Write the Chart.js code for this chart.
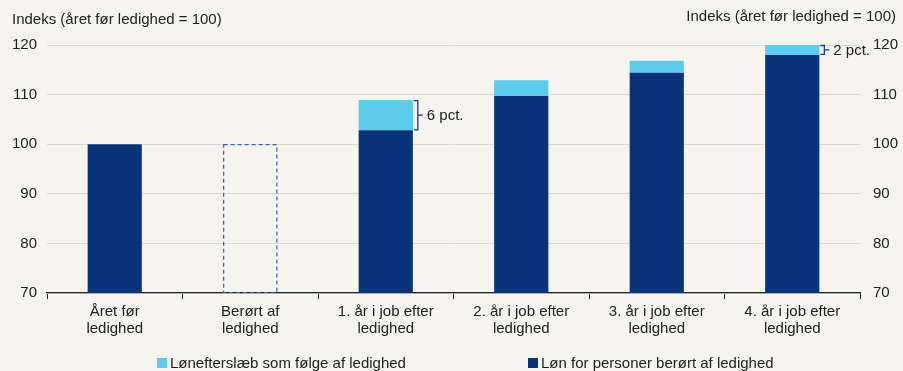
<!DOCTYPE html>
<html>
<head>
<meta charset="utf-8">
<script src="https://cdn.jsdelivr.net/npm/chart.js@4/dist/chart.umd.min.js"></script>
<style>
  html, body { margin: 0; padding: 0; background: #f5f4ee; }
  #wrap { width: 903px; height: 371px; position: relative; }
</style>
</head>
<body>
<div id="wrap"><canvas id="chart" width="903" height="371"></canvas></div>
<script>
// data
const categories = [
    ['Året før', 'ledighed'],
    ['Berørt af', 'ledighed'],
    ['1. år i job efter', 'ledighed'],
    ['2. år i job efter', 'ledighed'],
    ['3. år i job efter', 'ledighed'],
    ['4. år i job efter', 'ledighed']
];
const wageValues = [100, 100, 102.8, 109.7, 114.4, 118];
const gapValues = [0, 0, 6.1, 3.2, 2.4, 2.0];
const gapLabels = [null, null, '6 pct.', null, null, '2 pct.'];
const dashedIndex = 1;
const axisTitle = 'Indeks (året før ledighed = 100)';
const seriesNames = ['Lønefterslæb som følge af ledighed', 'Løn for personer berørt af ledighed'];

const DARK = '#0a3379';
const LIGHT = '#5dcbeb';
const FONT = '"Liberation Sans", Arial, sans-serif';
const TEXT = '#222222';
const FS = 15;

var extras = {
    id: 'extras',
    afterDatasetsDraw: function (chart) {
        var ctx = chart.ctx;
        var yScale = chart.scales.y;
        var meta = chart.getDatasetMeta(0);

        // dashed outline bar
        var el = meta.data[dashedIndex];
        ctx.save();
        ctx.strokeStyle = '#3b63a6';
        ctx.lineWidth = 1.2;
        ctx.setLineDash([4, 3]);
        var top = el.y, bottom = chart.chartArea.bottom;
        ctx.strokeRect(el.x - el.width / 2 + 0.5, top + 0.5, el.width - 1, bottom - top - 1);
        ctx.restore();

        // brackets
        gapLabels.forEach(function (lbl, i) {
            if (!lbl) return;
            var b = meta.data[i];
            var x = b.x + b.width / 2 + 4;
            var yTop = yScale.getPixelForValue(wageValues[i] + gapValues[i]);
            var yBot = yScale.getPixelForValue(wageValues[i]);
            var yMid = (yTop + yBot) / 2;
            ctx.save();
            ctx.strokeStyle = '#1d3d7c';
            ctx.lineWidth = 1.3;
            ctx.beginPath();
            ctx.moveTo(x - 3, yTop + 0.5);
            ctx.lineTo(x + 1, yTop + 0.5);
            ctx.lineTo(x + 1, yBot - 0.5);
            ctx.lineTo(x - 3, yBot - 0.5);
            ctx.moveTo(x + 1, yMid);
            ctx.lineTo(x + 6, yMid);
            ctx.stroke();
            ctx.fillStyle = TEXT;
            ctx.font = FS + 'px ' + FONT;
            ctx.textBaseline = 'middle';
            ctx.textAlign = 'left';
            ctx.fillText(lbl, x + 10, yMid + 1);
            ctx.restore();
        });
    },
    afterDraw: function (chart) {
        var ctx = chart.ctx;
        ctx.save();
        ctx.fillStyle = TEXT;
        ctx.font = FS + 'px ' + FONT;
        ctx.textBaseline = 'middle';
        ctx.textAlign = 'left';
        ctx.fillText(axisTitle, 12, 20);
        ctx.textAlign = 'right';
        ctx.fillText(axisTitle, 896, 17);

        // legend
        var items = [
            { x: 157, color: LIGHT, text: seriesNames[0] },
            { x: 528, color: DARK, text: seriesNames[1] }
        ];
        ctx.textAlign = 'left';
        items.forEach(function (it) {
            ctx.fillStyle = it.color;
            ctx.fillRect(it.x, 358, 10, 10);
            ctx.fillStyle = TEXT;
            ctx.fillText(it.text, it.x + 13, 364);
        });
        ctx.restore();
    }
};

var config = {
    type: 'bar',
    data: {
        labels: categories,
        datasets: [
            {
                label: seriesNames[1],
                data: wageValues,
                backgroundColor: wageValues.map(function (v, i) { return i === dashedIndex ? 'rgba(0,0,0,0)' : DARK; }),
                borderWidth: 0,
                barPercentage: 0.4,
                categoryPercentage: 1.0
            },
            {
                label: seriesNames[0],
                data: gapValues,
                backgroundColor: LIGHT,
                borderWidth: 0,
                barPercentage: 0.4,
                categoryPercentage: 1.0
            }
        ]
    },
    options: {
        responsive: false,
        animation: false,
        layout: { padding: { left: 0, right: 0, top: 45, bottom: 24 } },
        plugins: {
            legend: { display: false },
            tooltip: { enabled: false }
        },
        scales: {
            x: {
                stacked: true,
                offset: true,
                grid: {
                    offset: true,
                    drawOnChartArea: false,
                    drawTicks: true,
                    tickLength: 6,
                    color: '#222'
                },
                border: { display: true, color: '#222', width: 1.2 },
                ticks: {
                    color: TEXT,
                    font: { family: FONT, size: FS, lineHeight: 1.15 },
                    maxRotation: 0,
                    autoSkip: false,
                    padding: 4
                },
                afterFit: function (s) { s.height = 54; }
            },
            y: {
                stacked: true,
                position: 'left',
                min: 70,
                max: 120,
                ticks: {
                    stepSize: 10,
                    color: TEXT,
                    font: { family: FONT, size: FS },
                    padding: 10
                },
                grid: { color: '#dcdbd3', lineWidth: 1, drawTicks: false },
                border: { display: false },
                afterFit: function (s) { s.width = 47; }
            },
            y2: {
                position: 'right',
                min: 70,
                max: 120,
                ticks: {
                    stepSize: 10,
                    color: TEXT,
                    font: { family: FONT, size: FS },
                    padding: 13
                },
                grid: { display: false, drawTicks: false },
                border: { display: false },
                afterFit: function (s) { s.width = 43; }
            }
        }
    },
    plugins: [extras]
};

var ctx = document.getElementById('chart').getContext('2d');
var chart = new Chart(ctx, config);
</script>
</body>
</html>
